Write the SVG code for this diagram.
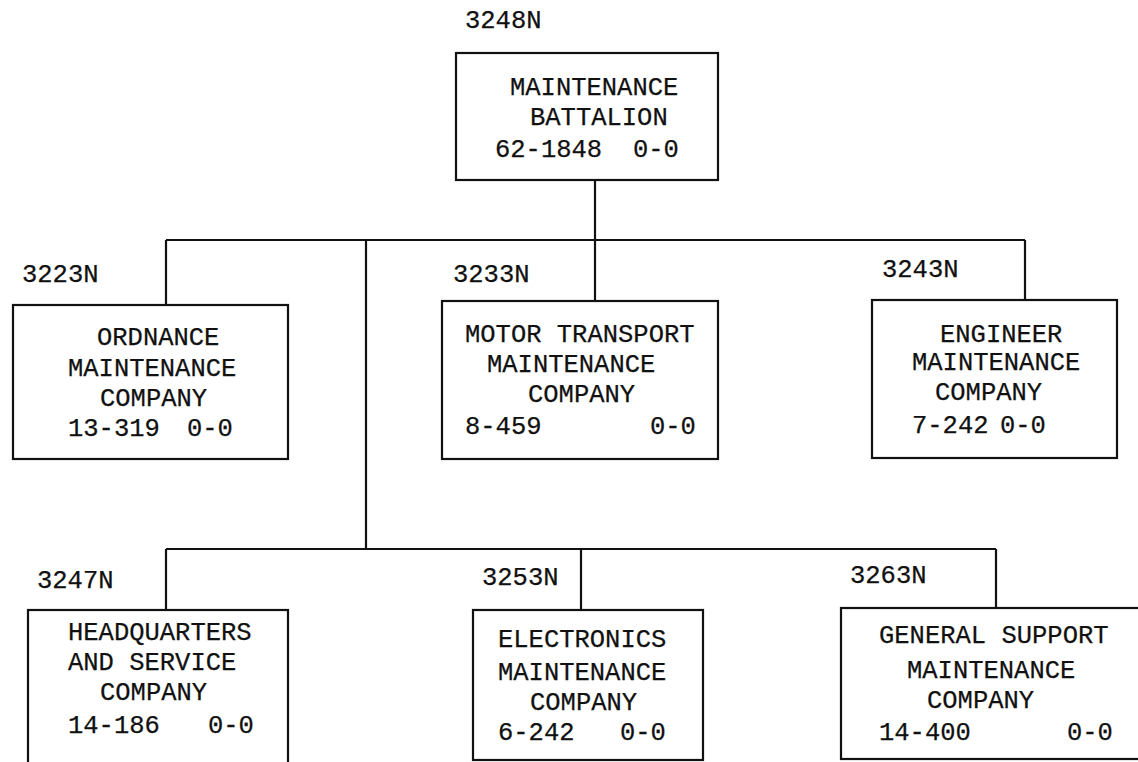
<svg xmlns="http://www.w3.org/2000/svg" width="1138" height="762" viewBox="0 0 1138 762">
<style>
.bg{fill:#fff}
.box{fill:none;stroke:#111;stroke-width:2.2}
.ln{fill:none;stroke:#111;stroke-width:2.2}
text{font-family:"Liberation Mono","Courier New",monospace;font-size:25.5px;fill:#111;stroke:#111;stroke-width:0.25}
</style>
<rect class="bg" x="0" y="0" width="1138" height="762"/>
<g id="connectors">
<path class="ln" d="M595,180 V240 M166,240 H1025 M166,240 V305 M595,240 V301 M1025,240 V300 M366,240 V549 M166,549 H996 M166,549 V610 M581,549 V610 M996,549 V608"/>
</g>
<g id="n3248">
<text x="465" y="28">3248N</text>
<rect class="box" x="456" y="53" width="262" height="127"/>
<text x="510" y="95">MAINTENANCE</text>
<text x="530" y="125">BATTALION</text>
<text y="157"><tspan x="495">62-1848</tspan><tspan x="633">0-0</tspan></text>
</g>
<g id="n3223">
<text x="22" y="282">3223N</text>
<rect class="box" x="13" y="305" width="275" height="154"/>
<text x="97" y="345">ORDNANCE</text>
<text x="68" y="376">MAINTENANCE</text>
<text x="100" y="406">COMPANY</text>
<text y="436"><tspan x="68">13-319</tspan><tspan x="187">0-0</tspan></text>
</g>
<g id="n3233">
<text x="453" y="282">3233N</text>
<rect class="box" x="442" y="301" width="276" height="158"/>
<text x="465" y="342">MOTOR TRANSPORT</text>
<text x="487" y="372">MAINTENANCE</text>
<text x="528" y="402">COMPANY</text>
<text y="434"><tspan x="465">8-459</tspan><tspan x="650">0-0</tspan></text>
</g>
<g id="n3243">
<text x="882" y="277">3243N</text>
<rect class="box" x="872" y="300" width="245" height="158"/>
<text x="940" y="342">ENGINEER</text>
<text x="912" y="370">MAINTENANCE</text>
<text x="935" y="400">COMPANY</text>
<text y="433"><tspan x="912">7-242</tspan><tspan x="1000">0-0</tspan></text>
</g>
<g id="n3247">
<text x="37" y="588">3247N</text>
<rect class="box" x="28" y="610" width="260" height="170"/>
<text x="68" y="640">HEADQUARTERS</text>
<text x="68" y="670">AND SERVICE</text>
<text x="100" y="700">COMPANY</text>
<text y="733"><tspan x="68">14-186</tspan><tspan x="208">0-0</tspan></text>
</g>
<g id="n3253">
<text x="482" y="585">3253N</text>
<rect class="box" x="473" y="610" width="230" height="150"/>
<text x="498" y="647">ELECTRONICS</text>
<text x="498" y="680">MAINTENANCE</text>
<text x="530" y="710">COMPANY</text>
<text y="740"><tspan x="498">6-242</tspan><tspan x="620">0-0</tspan></text>
</g>
<g id="n3263">
<text x="850" y="583">3263N</text>
<rect class="box" x="841" y="608" width="304" height="151"/>
<text x="879" y="643">GENERAL SUPPORT</text>
<text x="907" y="678">MAINTENANCE</text>
<text x="927" y="708">COMPANY</text>
<text y="740"><tspan x="879">14-400</tspan><tspan x="1067">0-0</tspan></text>
</g>
</svg>
